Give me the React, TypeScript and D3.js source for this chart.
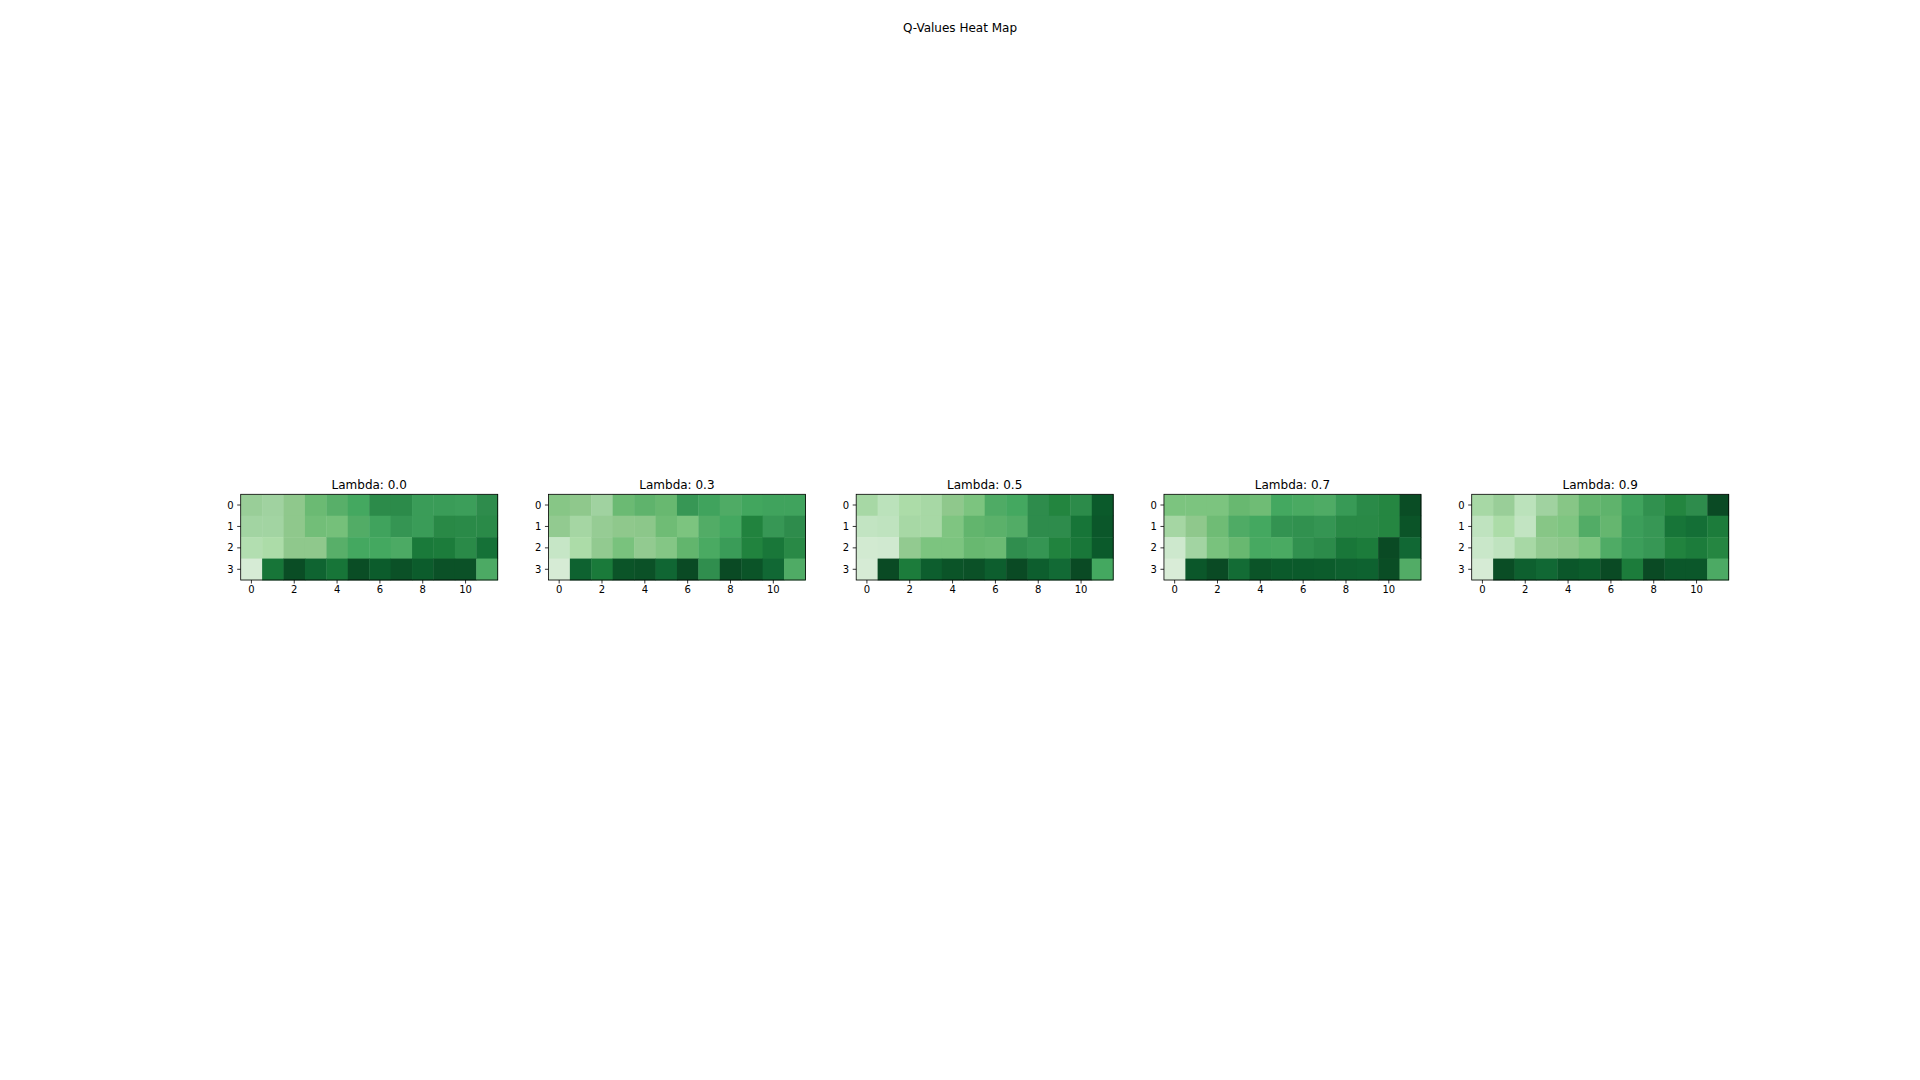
import * as d3 from "d3";

// Q-value heat maps, one per lambda. Values are read off the picture as
// relative colour intensity (0 = lightest, 1 = darkest green).
const LAMBDAS = ["0.0", "0.3", "0.5", "0.7", "0.9"];
const COLS = d3.range(12);
const ROWS = d3.range(4);
const X_TICKS = [0, 2, 4, 6, 8, 10];
const Y_TICKS = [0, 1, 2, 3];

const Q_L00 = [
  [0.27, 0.25, 0.3, 0.42, 0.48, 0.55, 0.68, 0.68, 0.6, 0.6, 0.59, 0.67],
  [0.24, 0.24, 0.3, 0.4, 0.39, 0.5, 0.57, 0.63, 0.6, 0.7, 0.69, 0.69],
  [0.18, 0.2, 0.3, 0.3, 0.48, 0.55, 0.55, 0.52, 0.78, 0.77, 0.69, 0.82],
  [0.04, 0.8, 0.97, 0.88, 0.8, 0.97, 0.92, 0.96, 0.92, 0.96, 0.96, 0.52],
];
const Q_L03 = [
  [0.33, 0.3, 0.25, 0.42, 0.46, 0.43, 0.62, 0.57, 0.51, 0.56, 0.57, 0.57],
  [0.29, 0.23, 0.28, 0.3, 0.31, 0.41, 0.37, 0.5, 0.55, 0.74, 0.62, 0.67],
  [0.12, 0.2, 0.29, 0.38, 0.29, 0.34, 0.45, 0.53, 0.6, 0.74, 0.79, 0.7],
  [0.04, 0.89, 0.78, 0.95, 0.96, 0.87, 0.98, 0.66, 0.98, 0.95, 0.86, 0.51],
];
const Q_L05 = [
  [0.22, 0.15, 0.2, 0.22, 0.3, 0.37, 0.51, 0.55, 0.67, 0.73, 0.68, 0.93],
  [0.13, 0.14, 0.22, 0.22, 0.36, 0.45, 0.47, 0.5, 0.67, 0.67, 0.8, 0.94],
  [0.07, 0.08, 0.29, 0.37, 0.37, 0.43, 0.42, 0.66, 0.63, 0.74, 0.79, 0.93],
  [0.04, 0.98, 0.77, 0.91, 0.95, 0.96, 0.91, 0.98, 0.91, 0.85, 0.98, 0.55],
];
const Q_L07 = [
  [0.37, 0.37, 0.37, 0.43, 0.41, 0.55, 0.53, 0.51, 0.61, 0.69, 0.72, 0.97],
  [0.23, 0.3, 0.41, 0.51, 0.55, 0.64, 0.65, 0.63, 0.7, 0.7, 0.72, 0.95],
  [0.1, 0.24, 0.38, 0.43, 0.54, 0.53, 0.65, 0.68, 0.79, 0.77, 0.98, 0.86],
  [0.02, 0.94, 0.98, 0.84, 0.95, 0.93, 0.93, 0.92, 0.9, 0.89, 0.97, 0.5],
];
const Q_L09 = [
  [0.22, 0.27, 0.15, 0.25, 0.33, 0.44, 0.46, 0.57, 0.65, 0.73, 0.67, 0.98],
  [0.14, 0.2, 0.13, 0.33, 0.36, 0.5, 0.44, 0.59, 0.62, 0.8, 0.83, 0.77],
  [0.11, 0.14, 0.22, 0.29, 0.31, 0.37, 0.51, 0.59, 0.62, 0.74, 0.77, 0.72],
  [0.04, 0.97, 0.9, 0.86, 0.94, 0.92, 0.98, 0.77, 0.98, 0.94, 0.94, 0.52],
];
const PANELS = [Q_L00, Q_L03, Q_L05, Q_L07, Q_L09];

// colour ramp
const RAMP_STOPS = [0, 0.1, 0.15, 0.2, 0.25, 0.3, 0.37, 0.43, 0.5, 0.55, 0.6, 0.67, 0.73, 0.8, 0.86, 0.93, 1];
const RAMP_COLORS = [
  "#dcedda", "#cde8cd", "#bbe2bb", "#acdca8", "#a0d2a0", "#8fc88c", "#7cc47f",
  "#68b870", "#52ac66", "#44a860", "#3a9c58", "#2e8c4c", "#23853f", "#177538",
  "#116834", "#0b5a2b", "#0a4421",
];

const W = 1920;
const H = 1080;
const AX_LEFT = 240.7;
const AX_STEP = 307.75;
const AX_TOP = 494.3;
const AX_W = 257;
const AX_H = 85.7;
const FONT = "'DejaVu Sans', sans-serif";

const color = d3.scaleLinear<string>().domain(RAMP_STOPS).range(RAMP_COLORS).interpolate(d3.interpolateRgb);

function Panel({ data, lambda, left }: { data: number[][]; lambda: string; left: number }) {
  const x = d3.scaleBand<number>().domain(COLS).range([left, left + AX_W]);
  const y = d3.scaleBand<number>().domain(ROWS).range([AX_TOP, AX_TOP + AX_H]);
  const bottom = AX_TOP + AX_H;

  return (
    <g>
      {ROWS.map((r) =>
        COLS.map((c) => (
          <rect
            key={`${r}-${c}`}
            x={x(c)}
            y={y(r)}
            width={x.bandwidth() + 0.4}
            height={y.bandwidth() + 0.4}
            fill={color(data[r][c])}
          />
        ))
      )}
      <rect x={left} y={AX_TOP} width={AX_W} height={AX_H} fill="none" stroke="#000" strokeWidth={0.8} />
      {X_TICKS.map((t) => {
        const cx = (x(t) ?? 0) + x.bandwidth() / 2;
        return (
          <g key={`x${t}`}>
            <line x1={cx} x2={cx} y1={bottom} y2={bottom + 3.5} stroke="#000" strokeWidth={0.8} />
            <text x={cx} y={bottom + 12.8} fontSize={10} textAnchor="middle" fontFamily={FONT}>
              {t}
            </text>
          </g>
        );
      })}
      {Y_TICKS.map((t) => {
        const cy = (y(t) ?? 0) + y.bandwidth() / 2;
        return (
          <g key={`y${t}`}>
            <line x1={left - 3.5} x2={left} y1={cy} y2={cy} stroke="#000" strokeWidth={0.8} />
            <text x={left - 7} y={cy} fontSize={10} textAnchor="end" dominantBaseline="central" fontFamily={FONT}>
              {t}
            </text>
          </g>
        );
      })}
      <text x={left + AX_W / 2} y={AX_TOP - 5.2} fontSize={12} textAnchor="middle" fontFamily={FONT}>
        Lambda: {lambda}
      </text>
    </g>
  );
}

export default function App() {
  return (
    <svg
      width={W}
      height={H}
      style={{ position: "absolute", left: 0, top: 0, background: "#fff" }}
    >
      <rect width={W} height={H} fill="#fff" />
      <text x={W / 2} y={32} fontSize={12} textAnchor="middle" fontFamily={FONT}>
        Q-Values Heat Map
      </text>
      {PANELS.map((d, i) => (
        <Panel key={LAMBDAS[i]} data={d} lambda={LAMBDAS[i]} left={AX_LEFT + i * AX_STEP} />
      ))}
    </svg>
  );
}
